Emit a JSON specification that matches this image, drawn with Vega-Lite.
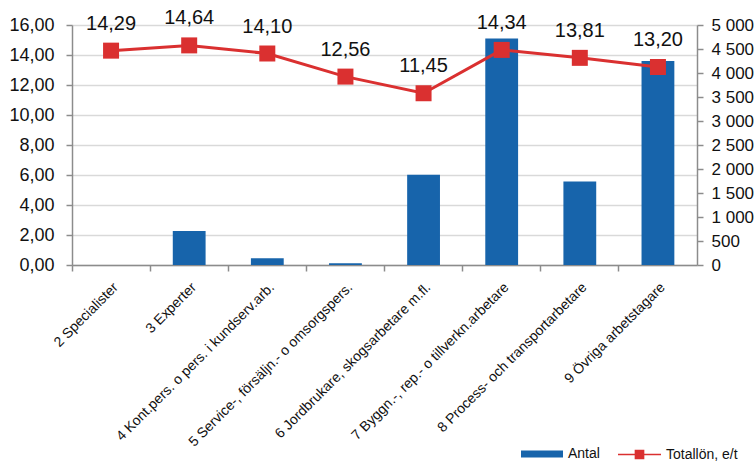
{
  "$schema": "https://vega.github.io/schema/vega-lite/v6.json",
  "width": 625,
  "height": 240,
  "autosize": {"type": "none"},
  "padding": {"left": 72, "top": 25, "right": 58, "bottom": 196},
  "config": {
    "locale": {"number": {"decimal": ",", "thousands": " ", "grouping": [3], "currency": ["", " €"]}},
    "view": {"stroke": null},
    "font": "Liberation Sans",
    "axis": {"labelColor": "#111", "domainColor": "#8c8c8c", "tickColor": "#8c8c8c", "domainWidth": 1.5, "tickWidth": 1.5, "labelFont": "Liberation Sans"},
    "legend": {"labelFont": "Liberation Sans", "labelColor": "#111"}
  },
  "data": {
    "values": [
      {"yrke": "2 Specialister", "lon": 14.29, "antal": 0},
      {"yrke": "3 Experter", "lon": 14.64, "antal": 710},
      {"yrke": "4 Kont.pers. o pers. i kundserv.arb.", "lon": 14.10, "antal": 140},
      {"yrke": "5 Service-, försäljn.- o omsorgspers.", "lon": 12.56, "antal": 35},
      {"yrke": "6 Jordbrukare, skogsarbetare m.fl.", "lon": 11.45, "antal": 1880},
      {"yrke": "7 Byggn.-, rep.- o tillverkn.arbetare", "lon": 14.34, "antal": 4720},
      {"yrke": "8 Process- och transportarbetare", "lon": 13.81, "antal": 1740},
      {"yrke": "9 Övriga arbetstagare", "lon": 13.20, "antal": 4250}
    ]
  },
  "layer": [
    {
      "mark": {"type": "bar", "width": {"band": 0.42}},
      "encoding": {
        "x": {"field": "yrke", "type": "nominal", "sort": null,
              "scale": {"paddingInner": 0, "paddingOuter": 0},
              "axis": {"orient": "bottom", "title": null, "labelAngle": -45, "labelFontSize": 14, "labelPadding": 15, "ticks": false, "domain": true, "grid": false, "labelLimit": 400}},
        "y": {"field": "antal", "type": "quantitative",
              "scale": {"domain": [0, 5000]},
              "axis": {"orient": "right", "title": null, "values": [0, 500, 1000, 1500, 2000, 2500, 3000, 3500, 4000, 4500, 5000], "format": ",.0f", "labelFontSize": 17, "tickSize": 6, "labelPadding": 8, "grid": false}},
        "color": {"datum": "Antal", "type": "nominal", "scale": {"range": ["#1764AB"]},
                  "legend": {"orient": "none", "legendX": 449, "legendY": 408, "title": null, "symbolType": "M-1,-0.17H1V0.17H-1Z", "symbolSize": 1764, "symbolStrokeWidth": 0, "labelFontSize": 14, "labelOffset": 5}}
      }
    },
    {
      "encoding": {
        "x": {"field": "yrke", "type": "nominal", "sort": null,
              "axis": {"orient": "bottom", "title": null, "labels": false, "ticks": true, "tickSize": 6, "bandPosition": 0, "domain": false, "grid": false}},
        "y": {"field": "lon", "type": "quantitative",
              "scale": {"domain": [0, 16]},
              "axis": {"orient": "left", "title": null, "values": [0, 2, 4, 6, 8, 10, 12, 14, 16], "format": ".2f", "labelFontSize": 18, "tickSize": 6, "labelPadding": 12, "grid": true, "gridColor": "#d9d9d9", "gridWidth": 1.5}}
      },
      "layer": [
        {
          "mark": {"type": "line", "strokeWidth": 3},
          "encoding": {
            "color": {"datum": "Totallön, e/t", "type": "nominal", "scale": {"range": ["#DA3030"]},
                      "legend": {"orient": "none", "legendX": 545, "legendY": 407, "title": null, "symbolType": "M-1,0H1M-0.19,-0.19H0.19V0.19H-0.19Z", "symbolSize": 1849, "symbolStrokeWidth": 1.5, "labelFontSize": 14, "labelOffset": 4,
                                 "encode": {"symbols": {"update": {"fill": {"value": "#DA3030"}, "stroke": {"value": "#DA3030"}}}}}}
          }
        },
        {
          "mark": {"type": "point", "shape": "square", "filled": true, "size": 256, "opacity": 1},
          "encoding": {
            "color": {"datum": "Totallön, e/t", "type": "nominal"}
          }
        },
        {
          "mark": {"type": "text", "dy": -27, "fontSize": 20, "color": "#111"},
          "encoding": {
            "text": {"field": "lon", "type": "quantitative", "format": ".2f"}
          }
        }
      ]
    }
  ],
  "resolve": {"scale": {"y": "independent", "color": "independent"}, "axis": {"x": "independent"}}
}
